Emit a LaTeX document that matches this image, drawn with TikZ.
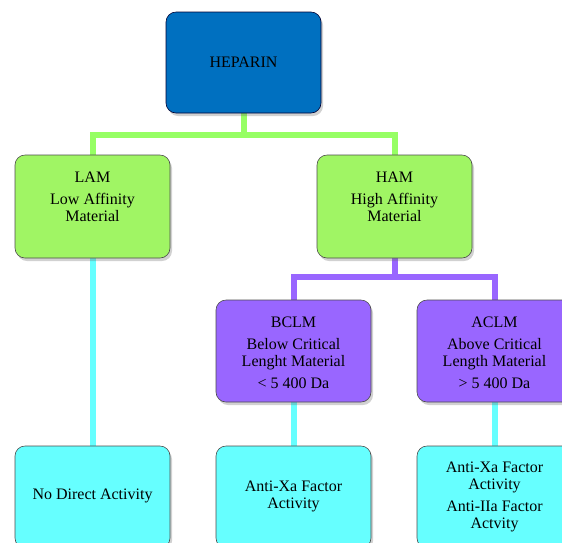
\documentclass[tikz,border=0pt]{standalone}
\usepackage{fontspec}
\setmainfont{Liberation Serif}
\usetikzlibrary{shadows,calc}
\definecolor{hepblue}{RGB}{0,112,192}
\definecolor{lgreen}{RGB}{160,245,100}
\definecolor{cgreen}{RGB}{150,255,100}
\definecolor{lpurple}{RGB}{153,102,255}
\definecolor{lcyan}{RGB}{102,255,255}
\begin{document}
\begin{tikzpicture}[x=1pt,y=-1pt,
  box/.style={draw=black!70,line width=0.6pt,rounded corners=10pt,minimum width=155pt,minimum height=102pt,
    drop shadow={shadow xshift=2pt,shadow yshift=-3pt,opacity=0.3,fill=black!60}},
  txt/.style={align=center,font=\fontsize{16}{17}\selectfont,text=black},
  gline/.style={draw=cgreen,line width=6pt},
  pline/.style={draw=lpurple,line width=6pt},
  cline/.style={draw=lcyan,line width=6pt}]
\useasboundingbox (0,0) rectangle (562,542);
% connectors first
\coordinate (gj) at (243.5,135);
\coordinate (pj) at (394.5,277);
\coordinate (lamN) at (92.5,155);
\coordinate (hamN) at (394.5,155);
\coordinate (hepS) at (243.5,113);
\draw[gline] (hepS) -- (gj);
\draw[gline] (lamN) |- (gj) -| (hamN);
\coordinate (hamS) at (394.5,258);
\coordinate (bclmN) at (293.5,300);
\coordinate (aclmN) at (494.5,300);
\draw[pline] (hamS) -- (pj);
\draw[pline] (bclmN) |- (pj) -| (aclmN);
\coordinate (lamS) at (92.5,258);
\coordinate (ndaN) at (92.5,446);
\coordinate (bclmS) at (293.5,402);
\coordinate (axaN) at (293.5,446);
\coordinate (aclmS) at (494.5,402);
\coordinate (bothN) at (494.5,446);
\draw[cline] (lamS) -- (ndaN);
\draw[cline] (bclmS) -- (axaN);
\draw[cline] (aclmS) -- (bothN);
% boxes
\node[box,fill=hepblue,draw=black!80!blue,minimum height=101pt] (heparin) at (243.5,62.5) {};
\node[txt] (heparinT) at (heparin.center) {HEPARIN};
\node[box,fill=lgreen,minimum height=103pt] (lam) at (92.5,206.5) {};
\node[txt] (lamT) at ($(lam.center)+(0,-10)$) {LAM\\[5pt]Low Affinity\\Material};
\node[box,fill=lgreen,minimum height=103pt] (ham) at (394.5,206.5) {};
\node[txt] (hamT) at ($(ham.center)+(0,-10)$) {HAM\\[5pt]High Affinity\\Material};
\node[box,fill=lpurple] (bclm) at (293.5,351) {};
\node[txt] (bclmT) at ($(bclm.center)+(0,1.5)$) {BCLM\\[5pt]Below Critical\\Lenght Material\\[5pt]\textless{} 5 400 Da};
\node[box,fill=lpurple] (aclm) at (494.5,351) {};
\node[txt] (aclmT) at ($(aclm.center)+(0,1.5)$) {ACLM\\[5pt]Above Critical\\Length Material\\[5pt]\textgreater{} 5 400 Da};
\node[box,fill=lcyan] (nda) at (92.5,497) {};
\node[txt] (ndaT) at ($(nda.center)+(0,-1)$) {No Direct Activity};
\node[box,fill=lcyan] (axa) at (293.5,497) {};
\node[txt] (axaT) at ($(axa.center)+(0,-1)$) {Anti-Xa Factor\\Activity};
\node[box,fill=lcyan] (both) at (494.5,497) {};
\node[txt] (bothT) at ($(both.center)+(0,-0.5)$) {Anti-Xa Factor\\Activity\\[5pt]Anti-IIa Factor\\Actvity};
\end{tikzpicture}
\end{document}
